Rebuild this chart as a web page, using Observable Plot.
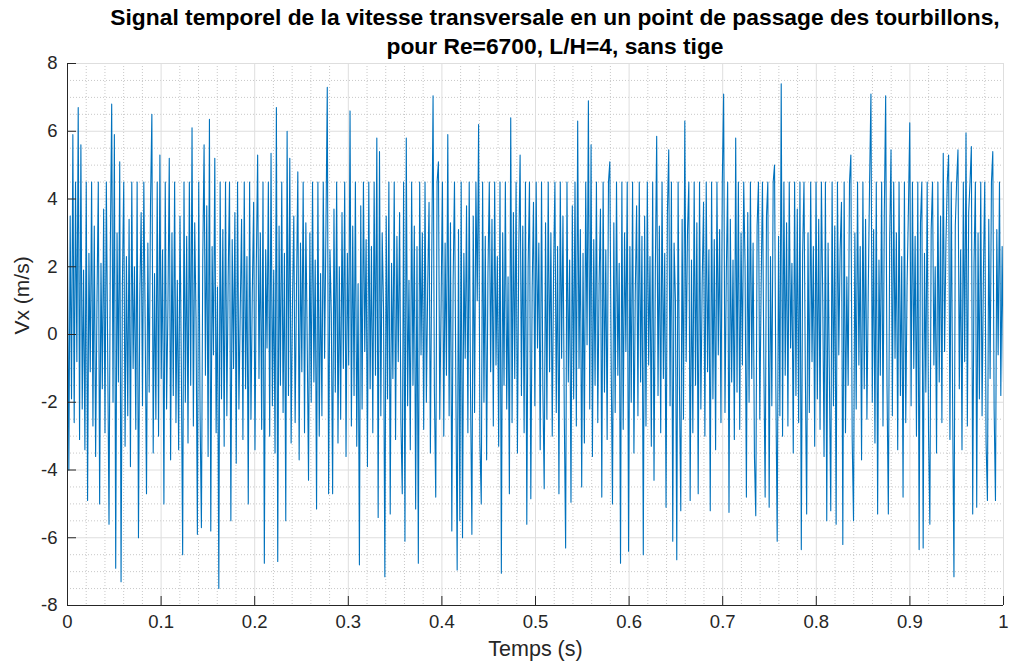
<!DOCTYPE html>
<html>
<head>
<meta charset="utf-8">
<script src="https://cdn.jsdelivr.net/npm/d3@7"></script>
<script src="https://cdn.jsdelivr.net/npm/@observablehq/plot@0.6"></script>
<style>
  html, body { margin: 0; padding: 0; background: #fff; }
  #wrap { position: relative; width: 1011px; height: 670px; overflow: hidden; }
  #title { position: absolute; left: 0px; width: 1110px; top: 3px; text-align: center;
           font-family: "Liberation Sans", Arial, sans-serif; font-weight: bold; font-size: 22.8px;
           line-height: 29px; color: #000; white-space: nowrap; }
</style>
</head>
<body>
<div id="wrap">
  <div id="chart"></div>
  <div id="title"></div>
</div>
<script>
const titleLines = ["Signal temporel de la vitesse transversale en un point de passage des tourbillons,", "pour Re=6700, L/H=4, sans tige"];
const xLabel = "Temps (s)";
const yLabel = "Vx (m/s)";
const xTicks = [0, 0.1, 0.2, 0.3, 0.4, 0.5, 0.6, 0.7, 0.8, 0.9, 1];
const yTicks = [-8, -6, -4, -2, 0, 2, 4, 6, 8];
const tStart = 0, tEnd = 1;

// Vx samples (m/s), evenly spaced over 0..1 s
const vx = [
 2.8, -4.0, 3.5, -1.9, 5.9, -2.6, 4.5, -0.8, 6.7, -3.1,
 5.6, -2.2, 1.9, -3.4, 4.5, -4.9, 2.4, -1.1, 4.5, -2.7,
 3.2, -3.6, 0.9, 4.5, -5.0, 2.1, -1.6, 3.7, -2.9, 4.5,
 -0.5, -5.6, 2.6, 6.8, -2.0, 5.9, -6.9, 3.0, -1.4, 5.1,
 -7.3, 1.5, 4.5, -3.3, 2.3, -2.4, 3.4, -3.9, 4.5, -1.0,
 2.0, -2.8, 4.5, -6.0, 1.1, 3.6, -2.1, 4.5, 0.3, -4.7,
 2.7, -1.7, 3.9, 6.5, -3.5, 1.8, -2.5, 4.5, -3.0, 5.3,
 -1.3, 2.5, -5.0, 4.5, -2.2, 0.8, 5.2, -3.7, 3.0, -1.8,
 4.5, -2.6, 1.6, -3.4, 3.5, -0.9, -6.5, 4.5, -2.0, 2.9,
 -3.2, 4.5, -1.5, 6.1, -2.7, 3.3, 0.4, -5.9, 4.5, -2.3,
 -5.7, 2.2, 5.6, -1.2, 3.8, -3.6, 6.35, -5.8, 2.6, -0.6,
 5.2, -2.9, 1.4, -7.5, 4.5, -1.9, 3.1, -3.3, 4.5, -2.4,
 1.7, 4.5, -5.5, 2.8, -1.0, 3.6, -3.8, 4.5, -2.2, 0.7,
 3.4, -3.1, 4.5, -1.6, 2.3, -5.0, 4.5, -2.5, 1.2, 3.9,
 -3.4, 2.0, 5.3, -1.3, 3.0, -2.8, 4.5, -6.75, 2.5, -0.4,
 4.5, -3.0, 5.35, -2.1, 1.9, -3.5, 6.7, -6.7, 3.2, -1.5,
 4.5, -2.3, 2.4, -5.5, 6.0, -1.8, 5.2, -3.2, 0.9, 3.5,
 -2.6, 1.3, 4.8, -3.7, 2.7, -1.1, 4.5, -2.9, 3.3, -0.2,
 -4.3, 3.0, -2.0, 4.5, -1.4, 2.2, -5.15, 4.5, -3.0, 1.8,
 -2.4, 4.5, -0.7, 3.1, 7.3, -4.7, 2.5, 0.6, -4.7, 3.7,
 -1.7, 4.5, -3.2, 2.0, -2.5, 3.6, -1.0, 4.5, -3.6, 2.4,
 -0.9, 6.6, -2.7, 3.2, -1.8, 4.5, -3.3, 1.5, -6.8, 3.8,
 -2.2, 4.5, -0.5, 2.8, -3.9, 4.5, -1.6, 2.6, -2.9, 4.5,
 -1.2, 5.8, -5.4, 5.4, -2.4, 3.0, 0.8, -7.15, 3.5, -1.9,
 4.5, -5.3, 2.1, -1.3, 4.5, -3.1, 2.9, -0.8, 3.6, -2.6,
 -4.7, 4.5, -6.1, 5.8, -2.1, 1.6, -3.4, 4.5, -1.5, 3.2,
 -5.15, 2.6, -6.75, 4.5, -0.6, 3.0, -2.8, 4.5, -2.0, 1.4,
 3.9, -3.5, 2.2, 7.05, -1.7, -4.8, 4.5, 5.1, -2.5, 0.9,
 4.5, -3.0, 2.7, -1.2, 5.9, -2.4, 3.3, -5.8, 1.6, 4.5,
 -1.4, -6.95, 3.1, -5.5, 4.5, -6.0, 2.4, -0.7, 3.8, -2.9,
 4.5, -1.8, -5.9, 3.5, -2.3, 4.5, 1.0, 6.2, -3.2, -5.0,
 4.5, -2.0, 2.9, -3.7, 1.8, 4.5, -1.1, 3.4, -2.7, 4.5,
 -0.9, 2.3, -3.3, 4.5, -7.05, 3.0, -1.5, 4.5, -2.2, 1.7,
 -4.7, 6.4, -2.6, 3.6, -1.3, 4.5, -3.5, 2.5, 5.3, -1.8,
 3.2, -2.9, 4.5, -5.6, 2.0, 4.5, -4.85, 1.3, 3.9, -2.1,
 4.5, -0.4, 2.7, -3.4, 4.5, -1.6, -4.55, 3.3, -2.5, 4.5,
 -1.1, 3.0, -3.0, 1.9, 4.5, -2.3, 2.6, -4.7, 4.5, -0.7,
 3.5, -2.4, -6.3, 4.5, -1.4, 2.2, -4.95, 3.8, -1.9, 4.5,
 -2.7, 6.3, -1.0, 3.1, -4.5, 2.4, -3.2, 4.5, -0.3, 6.9,
 -2.2, 5.6, -3.6, 2.8, -1.5, 4.5, -2.6, 1.5, 3.7, -4.8,
 4.5, -1.7, 2.5, -3.1, 4.5, 5.1, -0.8, -5.0, 3.3, -2.3,
 4.5, -1.2, 2.1, -6.75, 4.5, -2.8, 3.0, -0.5, 4.5, -6.4,
 2.6, -2.0, 4.5, -3.5, 1.2, 3.8, -2.4, 4.5, -1.4, 2.9,
 -6.5, 3.5, -2.7, 4.5, -0.9, 2.3, -3.3, 4.5, -4.3, 1.9,
 5.85, -1.8, 3.2, -2.9, 4.5, -1.3, 2.4, -5.1, 3.6, 5.45,
 -2.1, 4.5, -6.1, 2.7, 1.0, -6.65, 4.5, -1.6, -5.2, 3.4,
 -2.5, 6.3, -0.8, 3.0, 4.5, -4.9, 2.2, -2.9, 4.5, -1.5,
 3.3, -4.7, 4.5, -2.2, 1.6, 3.9, -3.0, 4.5, -1.1, 2.5,
 -5.2, 4.5, -1.9, 2.8, -3.4, 4.5, -0.6, 3.1, -2.6, 4.5,
 7.1, -2.3, 1.8, 4.5, -5.25, 3.4, -1.4, 2.2, -3.1, 5.8,
 -1.7, 4.5, -2.8, 3.0, -0.9, 4.5, 2.0, -4.8, 3.6, -2.0,
 4.5, -1.3, 2.7, -3.6, -5.35, 3.2, 4.5, -2.5, 1.4, 4.5,
 -0.7, -4.8, 3.5, 4.5, -5.1, 2.3, -2.1, 4.5, 5.0, -1.6,
 -6.1, 2.9, -2.4, 7.4, -3.0, 4.5, -1.2, 3.3, -2.7, 4.5,
 -0.4, 2.1, -3.5, 4.5, -1.8, 3.7, -2.6, 4.5, -6.35, 2.4,
 4.5, -1.1, -5.3, 3.0, -2.3, 4.5, -0.8, 2.6, -3.3, 4.5,
 -1.9, 3.4, -2.8, 4.5, 1.1, -3.6, 4.5, -5.5, 2.7, -1.4,
 -5.2, 4.5, -2.1, 3.2, -5.6, 4.5, -0.6, 2.5, 3.9, -6.2,
 4.5, -2.9, 1.7, -1.5, 4.5, 5.3, -3.1, -5.5, 3.0, -2.2,
 4.5, -0.9, 2.6, -3.7, 4.5, -1.6, 3.4, -2.5, 1.3, 4.5,
 7.1, -2.0, 3.1, -3.2, 4.5, -5.3, 2.2, -1.2, 4.5, -2.7,
 3.6, 7.05, -1.5, -5.3, 2.8, 5.45, -2.4, 4.5, -0.7, 3.0,
 -3.4, 4.5, -1.8, 2.3, -4.8, 4.5, -2.6, 1.5, 3.7, 6.25,
 -2.1, 4.5, -1.0, 2.9, -3.0, 4.5, -6.35, 3.3, 4.5, -6.3,
 2.4, -1.7, 4.5, -2.9, -5.6, 3.1, 4.5, -0.9, 2.0, -3.5,
 4.5, -1.4, 3.5, -2.6, 5.35, -0.5, 2.7, 4.5, 5.3, -3.1,
 4.5, -2.0, -7.15, 3.2, 4.5, 5.45, -1.6, 2.5, -3.4, 4.5,
 -0.8, 5.95, -2.7, 3.6, 4.5, 5.55, -5.3, 2.1, 4.5, -5.1,
 3.0, -1.9, 4.5, -2.4, 1.8, 4.5, -3.2, -4.9, 3.4, -1.3,
 4.5, 5.4, -2.2, -4.9, 3.1, -0.6, 4.5, -1.8, 2.6, -1.4
];

document.getElementById("title").innerHTML = titleLines.join("<br>");

const N = vx.length;
const data = vx.map((v, i) => ({t: tStart + (tEnd - tStart) * i / (N - 1), v}));
const xMinor = d3.range(0, 1.0001, 0.02).filter(d => Math.abs(d * 10 - Math.round(d * 10)) > 1e-6);
const yMinor = d3.range(-8, 8.0001, 0.5).filter(d => Math.abs(d / 2 - Math.round(d / 2)) > 1e-6);

const axisColor = "#262626";
const W = 1011, H = 670, mL = 67, mR = 8, mT = 63, mB = 65;
const frameH = H - mT - mB, frameW = W - mL - mR;

const chart = Plot.plot({
  width: W, height: H,
  marginLeft: mL, marginRight: mR, marginTop: mT, marginBottom: mB,
  x: {domain: [0, 1]},
  y: {domain: [-8, 8]},
  style: {fontFamily: "'Liberation Sans', Arial, sans-serif", fontSize: "18px", color: axisColor, background: "#fff", overflow: "visible"},
  marks: [
    Plot.ruleX(xMinor, {stroke: "#c8c8c8", strokeWidth: 1, strokeDasharray: "1,2"}),
    Plot.ruleY(yMinor, {stroke: "#c8c8c8", strokeWidth: 1, strokeDasharray: "1,2"}),
    Plot.ruleX(xTicks, {stroke: "#dedede", strokeWidth: 1}),
    Plot.ruleY(yTicks, {stroke: "#dedede", strokeWidth: 1}),
    Plot.line(data, {x: "t", y: "v", stroke: "#0072BD", strokeWidth: 1.1, clip: true}),
    Plot.ruleX(xTicks, {stroke: axisColor, strokeWidth: 1, insetTop: frameH - 9}),
    Plot.ruleY(yTicks, {stroke: axisColor, strokeWidth: 1, insetRight: frameW - 9}),
    Plot.ruleX([0], {stroke: axisColor, strokeWidth: 1}),
    Plot.ruleY([-8], {stroke: axisColor, strokeWidth: 1}),
    Plot.axisX(xTicks, {tickSize: 0, tickPadding: 9, tickFormat: d => String(d), label: null, fontSize: 18.5, fill: axisColor}),
    Plot.axisY(yTicks, {tickSize: 0, tickPadding: 10, tickFormat: d => String(d), label: null, fontSize: 18.5, fill: axisColor}),
    Plot.text([xLabel], {frameAnchor: "bottom", dy: 44, fontSize: 21.5, fill: axisColor, lineAnchor: "middle"}),
    Plot.text([yLabel], {frameAnchor: "left", dx: -45, rotate: -90, fontSize: 21, fill: axisColor, lineAnchor: "middle"})
  ]
});
document.getElementById("chart").appendChild(chart);
</script>
</body>
</html>
